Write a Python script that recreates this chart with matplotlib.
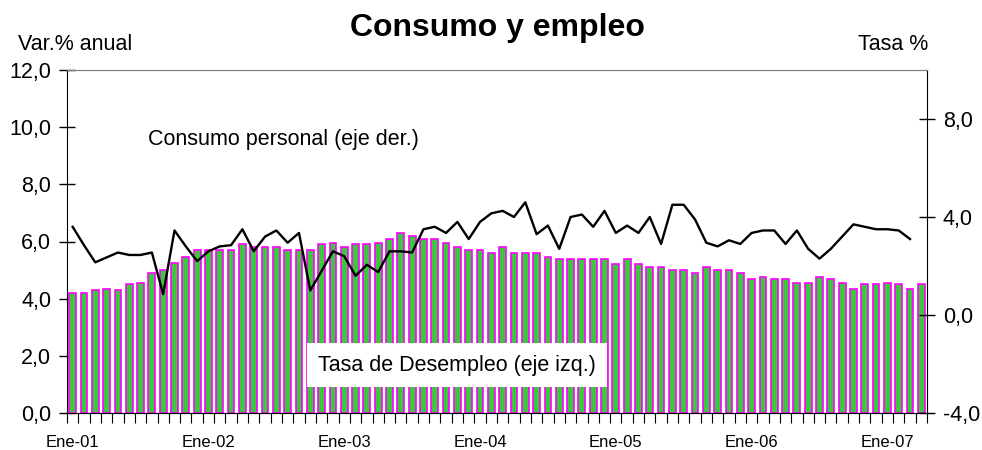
import matplotlib
matplotlib.use("Agg")
import matplotlib.pyplot as plt
import numpy as np

plt.rcParams['font.family'] = ['Liberation Sans', 'DejaVu Sans']

# Monthly data Jan-2001 .. Apr-2007
desempleo = [4.2, 4.2, 4.3, 4.35, 4.3, 4.5, 4.55, 4.9, 5.0, 5.25, 5.45, 5.7,
             5.7, 5.7, 5.7, 5.9, 5.8, 5.8, 5.8, 5.7, 5.7, 5.7, 5.9, 5.95,
             5.8, 5.9, 5.9, 5.95, 6.1, 6.3, 6.2, 6.1, 6.1, 5.95, 5.8, 5.7,
             5.7, 5.6, 5.8, 5.6, 5.6, 5.6, 5.45, 5.4, 5.4, 5.4, 5.4, 5.4,
             5.2, 5.4, 5.2, 5.1, 5.1, 5.0, 5.0, 4.9, 5.1, 5.0, 5.0, 4.9,
             4.7, 4.75, 4.7, 4.7, 4.55, 4.55, 4.75, 4.7, 4.55, 4.35, 4.5, 4.5,
             4.55, 4.5, 4.35, 4.5]

consumo = [3.6, 2.85, 2.15, 2.35, 2.55, 2.45, 2.45, 2.55, 0.85, 3.45, 2.8, 2.2,
           2.6, 2.8, 2.85, 3.5, 2.6, 3.2, 3.45, 2.95, 3.35, 1.0, 1.8, 2.6,
           2.4, 1.6, 2.05, 1.75, 2.6, 2.6, 2.55, 3.5, 3.6, 3.35, 3.8, 3.1,
           3.8, 4.15, 4.25, 4.0, 4.6, 3.3, 3.65, 2.7, 4.0, 4.1, 3.6, 4.25,
           3.35, 3.65, 3.35, 4.0, 2.9, 4.5, 4.5, 3.9, 2.95, 2.8, 3.05, 2.9,
           3.35, 3.45, 3.45, 2.9, 3.45, 2.7, 2.3, 2.7, 3.2, 3.7, 3.6, 3.5,
           3.5, 3.45, 3.1]

tick_labels = ['Ene-01', 'Ene-02', 'Ene-03', 'Ene-04', 'Ene-05', 'Ene-06', 'Ene-07']

n = len(desempleo)
x = np.arange(n)

fig = plt.figure(figsize=(9.82, 4.5), dpi=100)
ax = fig.add_axes([67/982, 1-413/450, (927-67)/982, (413-70)/450])

ax.bar(x, desempleo, width=0.6, color='#3CC83C', edgecolor='#FF00FF', linewidth=1.2, zorder=2)
ax.set_xlim(-0.5, n-0.5)
ax.set_ylim(0, 12)
ax.set_yticks(np.arange(0, 12.1, 2))
ax.set_yticklabels([f"{v:.1f}".replace('.', ',') for v in np.arange(0, 12.1, 2)], fontsize=15.5)
ax.tick_params(axis='y', direction='inout', length=11, width=1, pad=6)

ax.set_xticks(np.arange(0, n, 12))
ax.set_xticklabels(tick_labels, fontsize=12, family=['Liberation Sans Narrow', 'Liberation Sans'])
ax.tick_params(axis='x', which='major', length=0, pad=16)
ax.set_xticks(np.arange(-0.5, n, 1), minor=True)
ax.tick_params(axis='x', which='minor', direction='out', length=7, width=0.8)

ax.spines['top'].set_color('#808080')
ax.spines['right'].set_visible(False)

ax2 = ax.twinx()
ax2.plot(x[:len(consumo)], consumo, color='black', linewidth=1.7, zorder=3)
ax2.set_ylim(-4, 10)
ax2.set_yticks([-4, 0, 4, 8])
ax2.set_yticklabels(['-4,0', '0,0', '4,0', '8,0'], fontsize=15.5)
ax2.tick_params(axis='y', direction='inout', length=11, width=1, pad=6)
ax2.spines['top'].set_color('#808080')
ax2.spines['left'].set_visible(False)
ax2.spines['bottom'].set_visible(False)

fig.text(497/982, 1-28/450, 'Consumo y empleo', ha='center', va='center', fontsize=23, fontweight='bold')
fig.text(18/982, 1-45/450, 'Var.% anual', ha='left', va='center', fontsize=15.5)
fig.text(928/982, 1-45/450, 'Tasa %', ha='right', va='center', fontsize=15.5)

fig.text(148/982, 1-140/450, 'Consumo personal (eje der.)', ha='left', va='center', fontsize=15.5)
fig.text(318/982, 1-365/450, 'Tasa de Desempleo (eje izq.)', ha='left', va='center', fontsize=15.5,
         bbox=dict(facecolor='white', edgecolor='none', pad=8), zorder=10)

fig.savefig('out.png', dpi=100)
